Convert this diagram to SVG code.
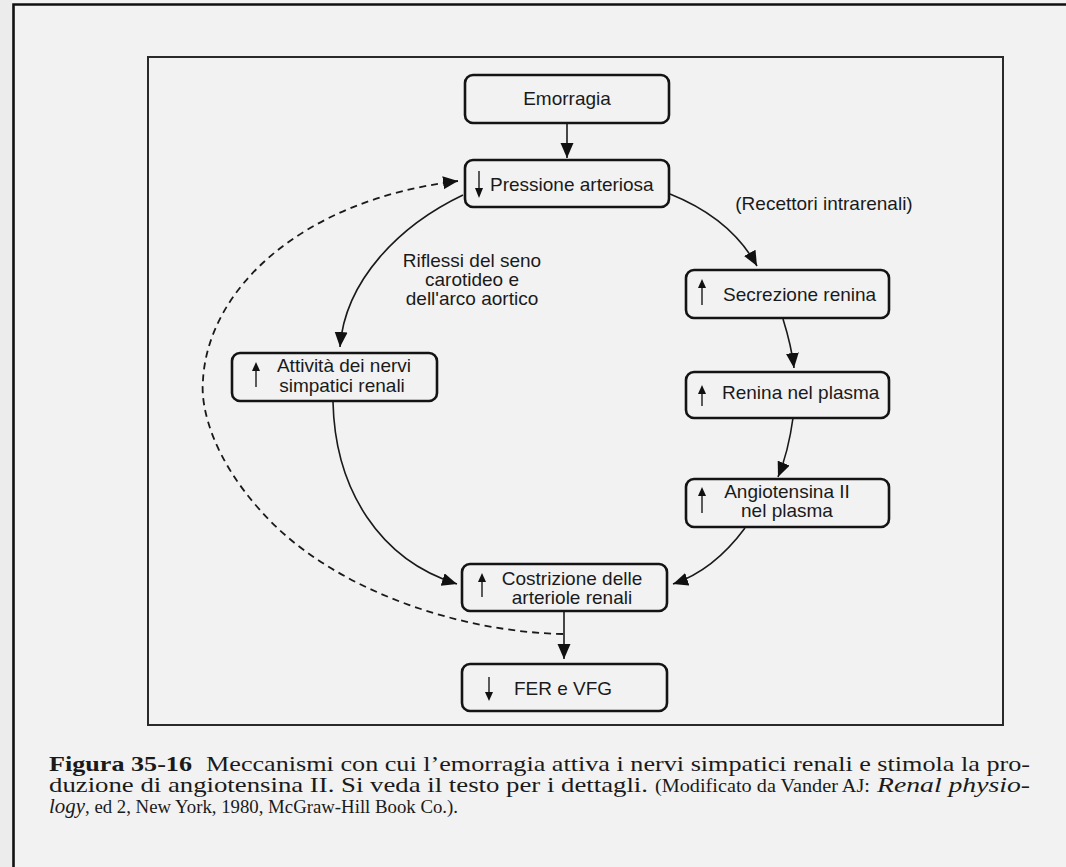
<svg xmlns="http://www.w3.org/2000/svg" width="1066" height="867" viewBox="0 0 1066 867">
<style>
.box{fill:none;stroke:#141414;stroke-width:2.6}
.t{font-family:"Liberation Sans",Arial,sans-serif;font-size:19px;fill:#1a1a1a}
.c{text-anchor:middle}
.ln{fill:none;stroke:#1a1a1a;stroke-width:1.6}
.dash{fill:none;stroke:#1a1a1a;stroke-width:1.8;stroke-dasharray:7 5}
.sm{fill:none;stroke:#1a1a1a;stroke-width:1.4}
</style>
<defs>
<marker id="ah" markerUnits="userSpaceOnUse" markerWidth="17" markerHeight="14" refX="15" refY="6.5" orient="auto">
<path d="M0,0 L15,6.5 L0,13 Z" fill="#111"/>
</marker>
</defs>
<rect width="1066" height="867" fill="#f2f2f2"/>
<rect x="0" y="0" width="12" height="867" fill="#ececec"/>
<path d="M13.5,867 V4.5 H1066" fill="none" stroke="#111" stroke-width="2.6"/>
<rect x="148" y="57" width="855" height="668" fill="none" stroke="#2a2a2a" stroke-width="2"/>

<g id="connectors">
<path class="ln" d="M567,123 V158" marker-end="url(#ah)"/>
<path class="ln" d="M463,195 C400,225 345,280 340,347" marker-end="url(#ah)"/>
<path class="ln" d="M333,402 C335,490 380,560 457,584" marker-end="url(#ah)"/>
<path class="ln" d="M670,194 C710,210 740,235 757,266" marker-end="url(#ah)"/>
<path class="ln" d="M783,319 C788,335 792,350 794,368" marker-end="url(#ah)"/>
<path class="ln" d="M793,418 C790,440 785,460 778,477" marker-end="url(#ah)"/>
<path class="ln" d="M745,528 C725,555 700,575 673,584" marker-end="url(#ah)"/>
<path class="ln" d="M564,611 V659" marker-end="url(#ah)"/>
<path class="dash" d="M563,634 C460,632 330,590 260,510 C215,460 200,410 203,380 C208,290 300,200 458,181" marker-end="url(#ah)"/>
</g>

<g id="n-emorragia">
<rect class="box" x="465" y="75" width="204" height="48" rx="8"/>
<text class="t c" x="567" y="105">Emorragia</text>
</g>
<g id="n-pressione">
<rect class="box" x="465" y="160" width="204" height="47" rx="8"/>
<path class="sm" d="M479,171 V190"/><path d="M475,188 L479,198 L483,188 Z" fill="#111"/>
<text class="t" x="490" y="191">Pressione arteriosa</text>
</g>
<g id="n-secrezione">
<rect class="box" x="686" y="270" width="203" height="48" rx="8"/>
<path class="sm" d="M702,305 V286"/><path d="M698,288 L702,279 L706,288 Z" fill="#111"/>
<text class="t" x="723" y="301">Secrezione renina</text>
</g>
<g id="n-renina">
<rect class="box" x="686" y="372" width="203" height="46" rx="8"/>
<path class="sm" d="M702,406 V392"/><path d="M698,394 L702,385 L706,394 Z" fill="#111"/>
<text class="t" x="722" y="399">Renina nel plasma</text>
</g>
<g id="n-angiotensina">
<rect class="box" x="686" y="479" width="203" height="48" rx="8"/>
<path class="sm" d="M702,513 V494"/><path d="M698,496 L702,487 L706,496 Z" fill="#111"/>
<text class="t c" x="787" y="498">Angiotensina II</text>
<text class="t c" x="787" y="517">nel plasma</text>
</g>
<g id="n-attivita">
<rect class="box" x="232" y="353" width="205" height="48" rx="8"/>
<path class="sm" d="M256,387 V369"/><path d="M252,371 L256,362 L260,371 Z" fill="#111"/>
<text class="t c" x="344" y="372">Attività dei nervi</text>
<text class="t c" x="342" y="392">simpatici renali</text>
</g>
<g id="n-costrizione">
<rect class="box" x="462" y="564" width="205" height="47" rx="8"/>
<path class="sm" d="M482,597 V580"/><path d="M478,582 L482,573 L486,582 Z" fill="#111"/>
<text class="t c" x="572" y="585">Costrizione delle</text>
<text class="t c" x="572" y="604">arteriole renali</text>
</g>
<g id="n-fer">
<rect class="box" x="462" y="664" width="205" height="47" rx="8"/>
<path class="sm" d="M489,677 V694"/><path d="M485,692 L489,701 L493,692 Z" fill="#111"/>
<text class="t c" x="563" y="695">FER e VFG</text>
</g>

<g id="labels">
<text class="t c" x="824" y="210">(Recettori intrarenali)</text>
<text class="t c" x="472" y="267">Riflessi del seno</text>
<text class="t c" x="472" y="286">carotideo e</text>
<text class="t c" x="472" y="305">dell'arco aortico</text>
</g>

<g id="caption" font-family="Liberation Serif, serif" fill="#1a1a1a">
<text x="49" y="771" font-size="22" font-weight="bold" textLength="143" lengthAdjust="spacingAndGlyphs">Figura 35-16</text>
<text x="206" y="771" font-size="22" textLength="824" lengthAdjust="spacingAndGlyphs">Meccanismi con cui l’emorragia attiva i nervi simpatici renali e stimola la pro-</text>
<text x="49" y="792" font-size="22" textLength="599" lengthAdjust="spacingAndGlyphs">duzione di angiotensina II. Si veda il testo per i dettagli.</text>
<text x="655" y="792" font-size="19" textLength="215" lengthAdjust="spacingAndGlyphs">(Modificato da Vander AJ:</text>
<text x="877" y="792" font-size="22" font-style="italic" textLength="153" lengthAdjust="spacingAndGlyphs">Renal physio-</text>
<text x="49" y="813" font-size="22" font-style="italic" textLength="36" lengthAdjust="spacingAndGlyphs">logy</text>
<text x="85" y="813" font-size="19" textLength="373" lengthAdjust="spacingAndGlyphs">, ed 2, New York, 1980, McGraw-Hill Book Co.).</text>
</g>
</svg>
